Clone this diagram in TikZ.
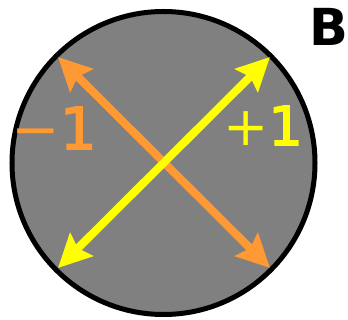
\documentclass[tikz,border=0pt]{standalone}
\usepackage{fontspec}
\usepackage{tikz}
\usetikzlibrary{arrows.meta}
\newfontfamily\labelfont{DejaVu Sans}
\newfontfamily\digitfont[FakeBold=2.5]{DejaVu Sans}
\definecolor{discgray}{HTML}{808080}
\definecolor{corange}{HTML}{FF9933}
\definecolor{cyellow}{HTML}{FFFF00}

\begin{document}
\begin{tikzpicture}[x=1pt, y=-1pt,
  dbl/.style={{Stealth[length=33pt, width=32pt, inset=5pt]}-{Stealth[length=33pt, width=32pt, inset=5pt]}, line width=8pt},
  lbl/.style={inner sep=0pt}
]
  \useasboundingbox (0,0) rectangle (348,320);

  % Disc
  \node[circle, draw=black, line width=5pt, fill=discgray, inner sep=0pt, minimum size=303pt] (disc) at (163.5,163) {};

  % Arrow ends
  \coordinate (nw) at (58,57);
  \coordinate (se) at (270,268);
  \coordinate (ne) at (270,57);
  \coordinate (sw) at (58,268);

  % Arrows
  \draw[dbl, corange] (nw) -- (se);
  \draw[dbl, cyellow] (sw) -- (ne);

  % Labels
  \node[lbl, text=corange, font=\labelfont\fontsize{58}{58}\selectfont] (minus) at (54,128) {−{\digitfont 1}};
  \node[lbl, text=cyellow, font=\labelfont\fontsize{54}{54}\selectfont] (plus) at (263,125.5) {+{\digitfont 1}};
  \node[lbl, font=\labelfont\bfseries\fontsize{51}{51}\selectfont] (panel) at (329,27) {B};
\end{tikzpicture}
\end{document}
